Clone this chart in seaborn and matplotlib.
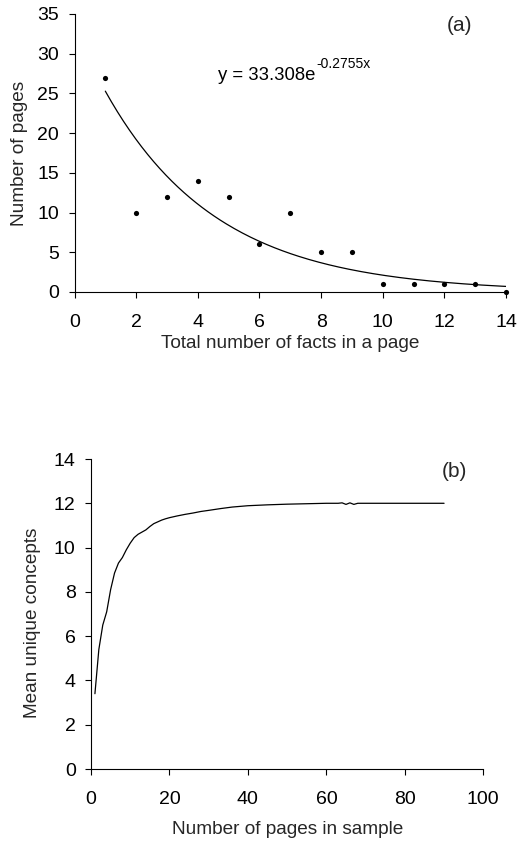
import numpy as np
import pandas as pd
import matplotlib
matplotlib.use("Agg")
import matplotlib.pyplot as plt
import seaborn as sns

# ---------------- data ----------------
# Panel (a): distribution of facts per page
facts_per_page = [1, 2, 3, 4, 5, 6, 7, 8, 9, 10, 11, 12, 13, 14]
pages_count = [27, 10, 12, 14, 12, 6, 10, 5, 5, 1, 1, 1, 1, 0]
# exponential trendline shown on the chart: y = A * e^(B x)
trend_A = 33.308
trend_B = -0.2755
trend_x_range = [1, 14]

# Panel (b): mean unique concepts vs sample size
sample_pages = [1, 2, 3, 4, 5, 6, 7, 8, 9, 10, 11, 12, 13, 14, 15, 16, 17, 18,
                19, 20, 22, 24, 26, 28, 30, 33, 36, 40, 45, 50, 55, 60, 63, 64,
                65, 66, 67, 68, 75, 80, 90]
mean_concepts = [3.4, 5.4, 6.5, 7.1, 8.1, 8.85, 9.3, 9.55, 9.9, 10.2, 10.45,
                 10.6, 10.7, 10.8, 10.95, 11.08, 11.16, 11.24, 11.3, 11.35,
                 11.43, 11.5, 11.56, 11.63, 11.68, 11.76, 11.83, 11.89, 11.93,
                 11.96, 11.98, 12.0, 12.0, 12.02, 11.95, 12.02, 11.95, 12.0,
                 12.0, 12.0, 12.0]

xa_ticks = [0, 2, 4, 6, 8, 10, 12, 14]
ya_ticks = [0, 5, 10, 15, 20, 25, 30, 35]
xb_ticks = [0, 20, 40, 60, 80, 100]
yb_ticks = [0, 2, 4, 6, 8, 10, 12, 14]

# ---------------- style ----------------
sns.set_style("ticks")
plt.rcParams["font.family"] = ["Liberation Sans", "DejaVu Sans"]
plt.rcParams["axes.linewidth"] = 0.8
FS_TICK = 14
FS_LAB = 13.7

W, H = 519, 841
fig = plt.figure(figsize=(W / 100, H / 100), dpi=100)

ax_a = fig.add_axes([74.5 / W, 1 - 292 / H, 431.5 / W, 278 / H])
ax_b = fig.add_axes([91 / W, 1 - 769 / H, 392.3 / W, 310 / H])

# ---------------- panel (a) ----------------
df_a = pd.DataFrame({"facts": facts_per_page, "pages": pages_count})
sns.scatterplot(data=df_a, x="facts", y="pages", ax=ax_a, color="black",
                s=14, linewidth=0, clip_on=False, zorder=3)

tx = np.linspace(trend_x_range[0], trend_x_range[1], 200)
df_t = pd.DataFrame({"x": tx, "y": trend_A * np.exp(trend_B * tx)})
sns.lineplot(data=df_t, x="x", y="y", ax=ax_a, color="black", linewidth=0.9)

ax_a.set_xlim(0, 14)
ax_a.set_ylim(0, 35)
ax_a.set_xticks(xa_ticks)
ax_a.set_yticks(ya_ticks)
ax_a.set_xlabel("Total number of facts in a page", fontsize=FS_LAB)
ax_a.set_ylabel("Number of pages", fontsize=FS_LAB)

t_main = ax_a.text(4.66, 26.7, f"y = {trend_A}e", fontsize=13.3,
                   va="baseline", ha="left", color="black")
ax_a.annotate(f"{trend_B}x", xy=(1, 0), xycoords=t_main,
              xytext=(0.5, 11.4), textcoords="offset points",
              fontsize=10, va="baseline", ha="left", color="black")
ax_a.text(12.09, 33.6, "(a)", fontsize=15, va="center", ha="left")

# ---------------- panel (b) ----------------
df_b = pd.DataFrame({"n": sample_pages, "c": mean_concepts})
sns.lineplot(data=df_b, x="n", y="c", ax=ax_b, color="black", linewidth=0.9)
ax_b.set_xlim(0, 100)
ax_b.set_ylim(0, 14)
ax_b.set_xticks(xb_ticks)
ax_b.set_yticks(yb_ticks)
ax_b.set_xlabel("Number of pages in sample", fontsize=FS_LAB)
ax_b.set_ylabel("Mean unique concepts", fontsize=FS_LAB)
ax_b.text(89.4, 13.42, "(b)", fontsize=15, va="center", ha="left")

for ax in (ax_a, ax_b):
    sns.despine(ax=ax)
    ax.tick_params(axis="both", direction="out", length=4, width=0.8,
                   labelsize=FS_TICK, colors="black")
    ax.tick_params(axis="x", pad=11.5)
    ax.tick_params(axis="y", pad=7)
    for sp in ("left", "bottom"):
        ax.spines[sp].set_color("black")
    ax.yaxis.label.set_verticalalignment("center")

ax_a.xaxis.set_label_coords(0.5, -0.155)
ax_a.yaxis.set_label_coords(-0.128, 0.5)
ax_b.xaxis.set_label_coords(0.5, -0.168)
ax_b.yaxis.set_label_coords(-0.148, 0.471)

fig.savefig("out.png", dpi=100)
